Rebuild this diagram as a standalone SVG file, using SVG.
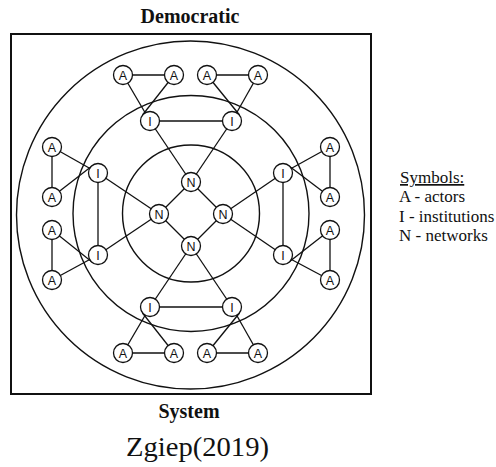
<svg xmlns="http://www.w3.org/2000/svg" width="496" height="467" viewBox="0 0 496 467">
<style>
.ring{fill:none;stroke:#111;stroke-width:1.4}
.edge{stroke:#111;stroke-width:1.3;fill:none}
.node circle{fill:#fff;stroke:#111;stroke-width:1.3}
.node text{font-family:"Liberation Sans",Arial,sans-serif;font-size:12.5px;fill:#111;text-anchor:middle}
.title{font-family:"Liberation Serif","Times New Roman",serif;font-weight:bold;font-size:20px;fill:#111;text-anchor:middle}
.legend{font-family:"Liberation Serif","Times New Roman",serif;font-size:17px;fill:#111}
</style>
<rect width="496" height="467" fill="#fff"/>
<text class="title" x="190" y="23">Democratic</text>
<rect x="11" y="34" width="360" height="360" fill="none" stroke="#111" stroke-width="2"/>
<g id="rings">
<circle class="ring" cx="190.5" cy="215" r="174"/>
<circle class="ring" cx="191" cy="213.5" r="118"/>
<circle class="ring" cx="191" cy="213.5" r="68.5"/>
</g>
<g id="connectors" class="edge">
<!-- top -->
<line x1="123" y1="75" x2="174" y2="75"/>
<line x1="207" y1="75" x2="258" y2="75"/>
<line x1="150" y1="121" x2="232" y2="121"/>
<line x1="123" y1="75" x2="150" y2="121"/>
<line x1="174" y1="75" x2="142.5" y2="115"/>
<line x1="258" y1="75" x2="232" y2="121"/>
<line x1="207" y1="75" x2="239.5" y2="115"/>
<line x1="150" y1="121" x2="191" y2="182"/>
<line x1="232" y1="121" x2="191" y2="182"/>
<!-- bottom -->
<line x1="123" y1="353" x2="174" y2="353"/>
<line x1="207" y1="353" x2="258" y2="353"/>
<line x1="150" y1="307" x2="232" y2="307"/>
<line x1="123" y1="353" x2="150" y2="307"/>
<line x1="174" y1="353" x2="142.5" y2="313"/>
<line x1="258" y1="353" x2="232" y2="307"/>
<line x1="207" y1="353" x2="239.5" y2="313"/>
<line x1="150" y1="307" x2="191" y2="246"/>
<line x1="232" y1="307" x2="191" y2="246"/>
<!-- left -->
<line x1="52" y1="147" x2="52" y2="197"/>
<line x1="52" y1="230" x2="52" y2="280"/>
<line x1="98" y1="173" x2="98" y2="255"/>
<line x1="52" y1="147" x2="98" y2="173"/>
<line x1="52" y1="197" x2="92" y2="166"/>
<line x1="52" y1="230" x2="92" y2="262"/>
<line x1="52" y1="280" x2="98" y2="255"/>
<line x1="98" y1="173" x2="159" y2="214"/>
<line x1="98" y1="255" x2="159" y2="214"/>
<!-- right -->
<line x1="330" y1="147" x2="330" y2="197"/>
<line x1="330" y1="230" x2="330" y2="280"/>
<line x1="283" y1="173" x2="283" y2="255"/>
<line x1="330" y1="147" x2="283" y2="173"/>
<line x1="330" y1="197" x2="289" y2="166"/>
<line x1="330" y1="230" x2="289" y2="262"/>
<line x1="330" y1="280" x2="283" y2="255"/>
<line x1="283" y1="173" x2="223" y2="214"/>
<line x1="283" y1="255" x2="223" y2="214"/>
<!-- networks -->
<line x1="191" y1="182" x2="159" y2="214"/>
<line x1="191" y1="182" x2="223" y2="214"/>
<line x1="159" y1="214" x2="191" y2="246"/>
<line x1="223" y1="214" x2="191" y2="246"/>
</g>
<g id="nodes">
<g id="a-t1" class="node"><circle cx="123" cy="75" r="9.5"/><text x="123" y="79.5">A</text></g>
<g id="a-t2" class="node"><circle cx="174" cy="75" r="9.5"/><text x="174" y="79.5">A</text></g>
<g id="a-t3" class="node"><circle cx="207" cy="75" r="9.5"/><text x="207" y="79.5">A</text></g>
<g id="a-t4" class="node"><circle cx="258" cy="75" r="9.5"/><text x="258" y="79.5">A</text></g>
<g id="a-b1" class="node"><circle cx="123" cy="353" r="9.5"/><text x="123" y="357.5">A</text></g>
<g id="a-b2" class="node"><circle cx="174" cy="353" r="9.5"/><text x="174" y="357.5">A</text></g>
<g id="a-b3" class="node"><circle cx="207" cy="353" r="9.5"/><text x="207" y="357.5">A</text></g>
<g id="a-b4" class="node"><circle cx="258" cy="353" r="9.5"/><text x="258" y="357.5">A</text></g>
<g id="a-l1" class="node"><circle cx="52" cy="147" r="9.5"/><text x="52" y="151.5">A</text></g>
<g id="a-l2" class="node"><circle cx="52" cy="197" r="9.5"/><text x="52" y="201.5">A</text></g>
<g id="a-l3" class="node"><circle cx="52" cy="230" r="9.5"/><text x="52" y="234.5">A</text></g>
<g id="a-l4" class="node"><circle cx="52" cy="280" r="9.5"/><text x="52" y="284.5">A</text></g>
<g id="a-r1" class="node"><circle cx="330" cy="147" r="9.5"/><text x="330" y="151.5">A</text></g>
<g id="a-r2" class="node"><circle cx="330" cy="197" r="9.5"/><text x="330" y="201.5">A</text></g>
<g id="a-r3" class="node"><circle cx="330" cy="230" r="9.5"/><text x="330" y="234.5">A</text></g>
<g id="a-r4" class="node"><circle cx="330" cy="280" r="9.5"/><text x="330" y="284.5">A</text></g>
<g id="i-t1" class="node"><circle cx="150" cy="121" r="9.5"/><text x="150" y="125.5">I</text></g>
<g id="i-t2" class="node"><circle cx="232" cy="121" r="9.5"/><text x="232" y="125.5">I</text></g>
<g id="i-b1" class="node"><circle cx="150" cy="307" r="9.5"/><text x="150" y="311.5">I</text></g>
<g id="i-b2" class="node"><circle cx="232" cy="307" r="9.5"/><text x="232" y="311.5">I</text></g>
<g id="i-l1" class="node"><circle cx="98" cy="173" r="9.5"/><text x="98" y="177.5">I</text></g>
<g id="i-l2" class="node"><circle cx="98" cy="255" r="9.5"/><text x="98" y="259.5">I</text></g>
<g id="i-r1" class="node"><circle cx="283" cy="173" r="9.5"/><text x="283" y="177.5">I</text></g>
<g id="i-r2" class="node"><circle cx="283" cy="255" r="9.5"/><text x="283" y="259.5">I</text></g>
<g id="n-t" class="node"><circle cx="191" cy="182" r="9.5"/><text x="191" y="186.5">N</text></g>
<g id="n-l" class="node"><circle cx="159" cy="214" r="9.5"/><text x="159" y="218.5">N</text></g>
<g id="n-r" class="node"><circle cx="223" cy="214" r="9.5"/><text x="223" y="218.5">N</text></g>
<g id="n-b" class="node"><circle cx="191" cy="246" r="9.5"/><text x="191" y="250.5">N</text></g>
</g>
<text class="title" x="189" y="418">System</text>
<g id="legend" class="legend">
<text x="400" y="183" text-decoration="underline">Symbols:</text>
<text x="399" y="202">A - actors</text>
<text x="399" y="222">I - institutions</text>
<text x="399" y="241">N - networks</text>
</g>
<text x="126" y="456" font-family="'Liberation Serif','Times New Roman',serif" font-size="28" fill="#111" textLength="143" lengthAdjust="spacingAndGlyphs">Zgiep(2019)</text>
</svg>
